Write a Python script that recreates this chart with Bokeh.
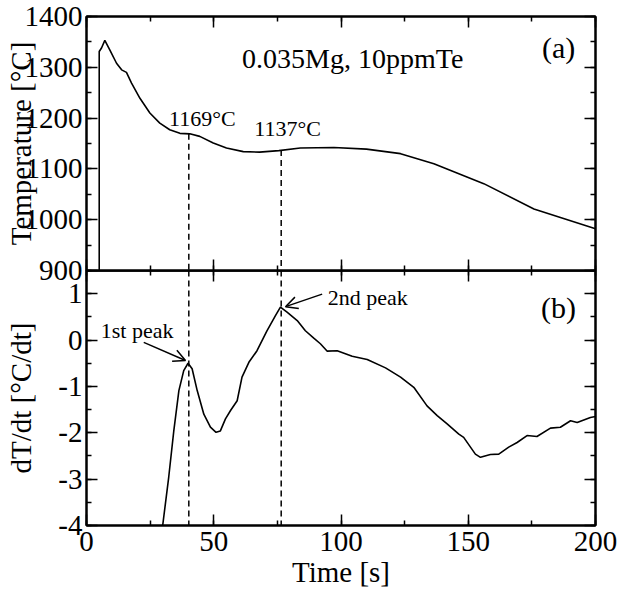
from bokeh.plotting import figure
from bokeh.layouts import column
from bokeh.models import (Range1d, LinearAxis, SingleIntervalTicker, Arrow, OpenHead,
                          CustomJSTickFormatter)
from bokeh.core.properties import value
from bokeh.embed import file_html
from bokeh.resources import INLINE

FONT = "Liberation Serif"

# ---- data ----
temp_time = [5.0, 5.0, 5.9, 7.2, 9.2, 11.8, 13.8, 15.7, 17.7, 21.0, 24.9, 28.8, 32.7, 36.7,
             40.6, 44.5, 49.8, 55.0, 61.6, 68.0, 75.6, 84.0, 97.2, 110.0, 123.4, 136.5,
             156.1, 175.8, 200.0]
temp_vals = [900, 1331, 1338, 1353, 1334, 1308, 1295, 1290, 1269, 1239, 1210, 1190, 1177, 1170,
             1169, 1164, 1151, 1141, 1134, 1133, 1136, 1141, 1142, 1139, 1130, 1110,
             1071, 1021, 982]

rate_time = [29.6, 30.0, 32.3, 34.3, 36.3, 38.2, 39.9, 41.5, 43.5, 46.1, 48.7, 50.9, 52.6, 54.6,
             56.6, 59.2, 61.1, 63.8, 67.0, 70.9, 74.3, 76.2, 78.8, 82.8, 86.0, 89.3, 91.9,
             94.6, 98.5, 104.4, 110.3, 117.5, 123.4, 128.6, 133.8, 137.8, 141.7, 146.3,
             148.2, 152.8, 154.8, 158.7, 162.0, 165.9, 169.2, 173.1, 177.0, 182.3, 186.2,
             190.2, 192.8, 198.0, 200.0]
rate_vals = [-4.1, -3.97, -2.96, -1.96, -1.09, -0.66, -0.50, -0.62, -1.09, -1.60, -1.88, -1.99,
             -1.96, -1.70, -1.52, -1.31, -0.80, -0.48, -0.23, 0.20, 0.53, 0.71, 0.60, 0.42,
             0.20, 0.04, -0.08, -0.24, -0.23, -0.35, -0.42, -0.60, -0.80, -1.02, -1.42,
             -1.63, -1.81, -2.03, -2.10, -2.46, -2.53, -2.47, -2.46, -2.31, -2.21, -2.06,
             -2.08, -1.90, -1.88, -1.74, -1.78, -1.67, -1.65]

peak_times = [40.2, 76.5]
peak_temps = [1169, 1137]
peak_labels = ["1169°C", "1137°C"]

x_lim = (0, 200)
temp_lim = (900, 1400)
rate_lim = (-4, 1.5)

OVERLAP = 20


def style_axis(ax, show_labels):
    ax.axis_line_width = 2
    ax.axis_line_color = "black"
    ax.major_tick_in = 11
    ax.major_tick_out = 0
    ax.minor_tick_in = 5
    ax.minor_tick_out = 0
    ax.major_tick_line_width = 1.5
    ax.minor_tick_line_width = 1.5
    ax.major_tick_line_color = "black"
    ax.minor_tick_line_color = "black"
    ax.major_label_text_font = FONT
    ax.major_label_text_color = "black"
    ax.axis_label_text_font = FONT
    ax.axis_label_text_font_size = "29px"
    ax.axis_label_text_font_style = "normal"
    ax.axis_label_text_color = "black"
    if show_labels:
        ax.major_label_text_font_size = "29px"
        ax.major_label_standoff = 4
        ax.formatter = CustomJSTickFormatter(code="return String(Math.round(tick * 100) / 100);")
    else:
        ax.major_label_text_font_size = "1px"
        ax.major_label_standoff = 0
        ax.formatter = CustomJSTickFormatter(code="return '';")


def make_fig(ylim, yint, frame_h, top_border, bottom_border, bottom_labels):
    p = figure(frame_width=509, frame_height=frame_h,
               x_range=Range1d(*x_lim), y_range=Range1d(*ylim),
               output_backend="svg", toolbar_location=None,
               x_axis_location=None, y_axis_location=None,
               min_border_left=86, min_border_right=27,
               min_border_top=top_border, min_border_bottom=bottom_border)
    p.grid.visible = False
    p.outline_line_color = "black"
    p.outline_line_width = 2
    xt = lambda: SingleIntervalTicker(interval=50, num_minor_ticks=2)
    yt = lambda: SingleIntervalTicker(interval=yint, num_minor_ticks=2)
    left = LinearAxis(ticker=yt()); style_axis(left, True)
    right = LinearAxis(ticker=yt()); style_axis(right, False)
    above = LinearAxis(ticker=xt()); style_axis(above, False)
    below = LinearAxis(ticker=xt()); style_axis(below, bottom_labels)
    p.add_layout(left, "left")
    p.add_layout(right, "right")
    p.add_layout(above, "above")
    p.add_layout(below, "below")
    return p, left, below


# ---- top panel ----
p1, left1, _ = make_fig(temp_lim, 100, 254, 16, OVERLAP, False)
left1.axis_label = "Temperature [°C]"
left1.axis_label_standoff = -15
p1.line(temp_time, temp_vals, line_color="black", line_width=1.6)
p1.segment(x0=peak_times, y0=peak_temps, x1=peak_times, y1=[temp_lim[0]] * 2,
           line_color="black", line_width=1.5, line_dash="6 4")
p1.text(x=[45.5, 79.0], y=[1199, 1180], text=peak_labels, text_font=value(FONT),
        text_font_size="22px", text_align="center", text_baseline="middle", text_color="black")
p1.text(x=[104.6], y=[1317], text=["0.035Mg, 10ppmTe"], text_font=value(FONT),
        text_font_size="28px", text_align="center", text_baseline="middle", text_color="black")
p1.text(x=[185.5], y=[1339], text=["(a)"], text_font=value(FONT),
        text_font_size="30px", text_align="center", text_baseline="middle", text_color="black")

# ---- bottom panel ----
p2, left2, below2 = make_fig(rate_lim, 1, 255, 0, 0, True)
p2.margin = (-OVERLAP, 0, 0, 0)
p2.border_fill_color = None
p2.background_fill_color = None
left2.axis_label = "dT/dt [°C/dt]"
left2.axis_label_standoff = 18
below2.axis_label = "Time [s]"
below2.axis_label_standoff = 2
below2.major_label_standoff = 6
p2.line(rate_time, rate_vals, line_color="black", line_width=1.6)
p2.segment(x0=peak_times, y0=[rate_lim[1]] * 2, x1=peak_times, y1=[rate_lim[0]] * 2,
           line_color="black", line_width=1.5, line_dash="6 4")
p2.text(x=[19.9, 110.5], y=[0.2, 0.92], text=["1st peak", "2nd peak"], text_font=value(FONT),
        text_font_size="22px", text_align="center", text_baseline="middle", text_color="black")
p2.text(x=[185.5], y=[0.71], text=["(b)"], text_font=value(FONT),
        text_font_size="30px", text_align="center", text_baseline="middle", text_color="black")
p2.add_layout(Arrow(end=OpenHead(size=12, line_width=1.5, line_color="black"),
                    x_start=22.5, y_start=-0.05, x_end=38.9, y_end=-0.44,
                    line_width=1.5, line_color="black"))
p2.add_layout(Arrow(end=OpenHead(size=12, line_width=1.5, line_color="black"),
                    x_start=92.6, y_start=0.99, x_end=78.2, y_end=0.72,
                    line_width=1.5, line_color="black"))

layout = column(p1, p2, spacing=0)
open("out.html", "w").write(file_html(layout, INLINE))
